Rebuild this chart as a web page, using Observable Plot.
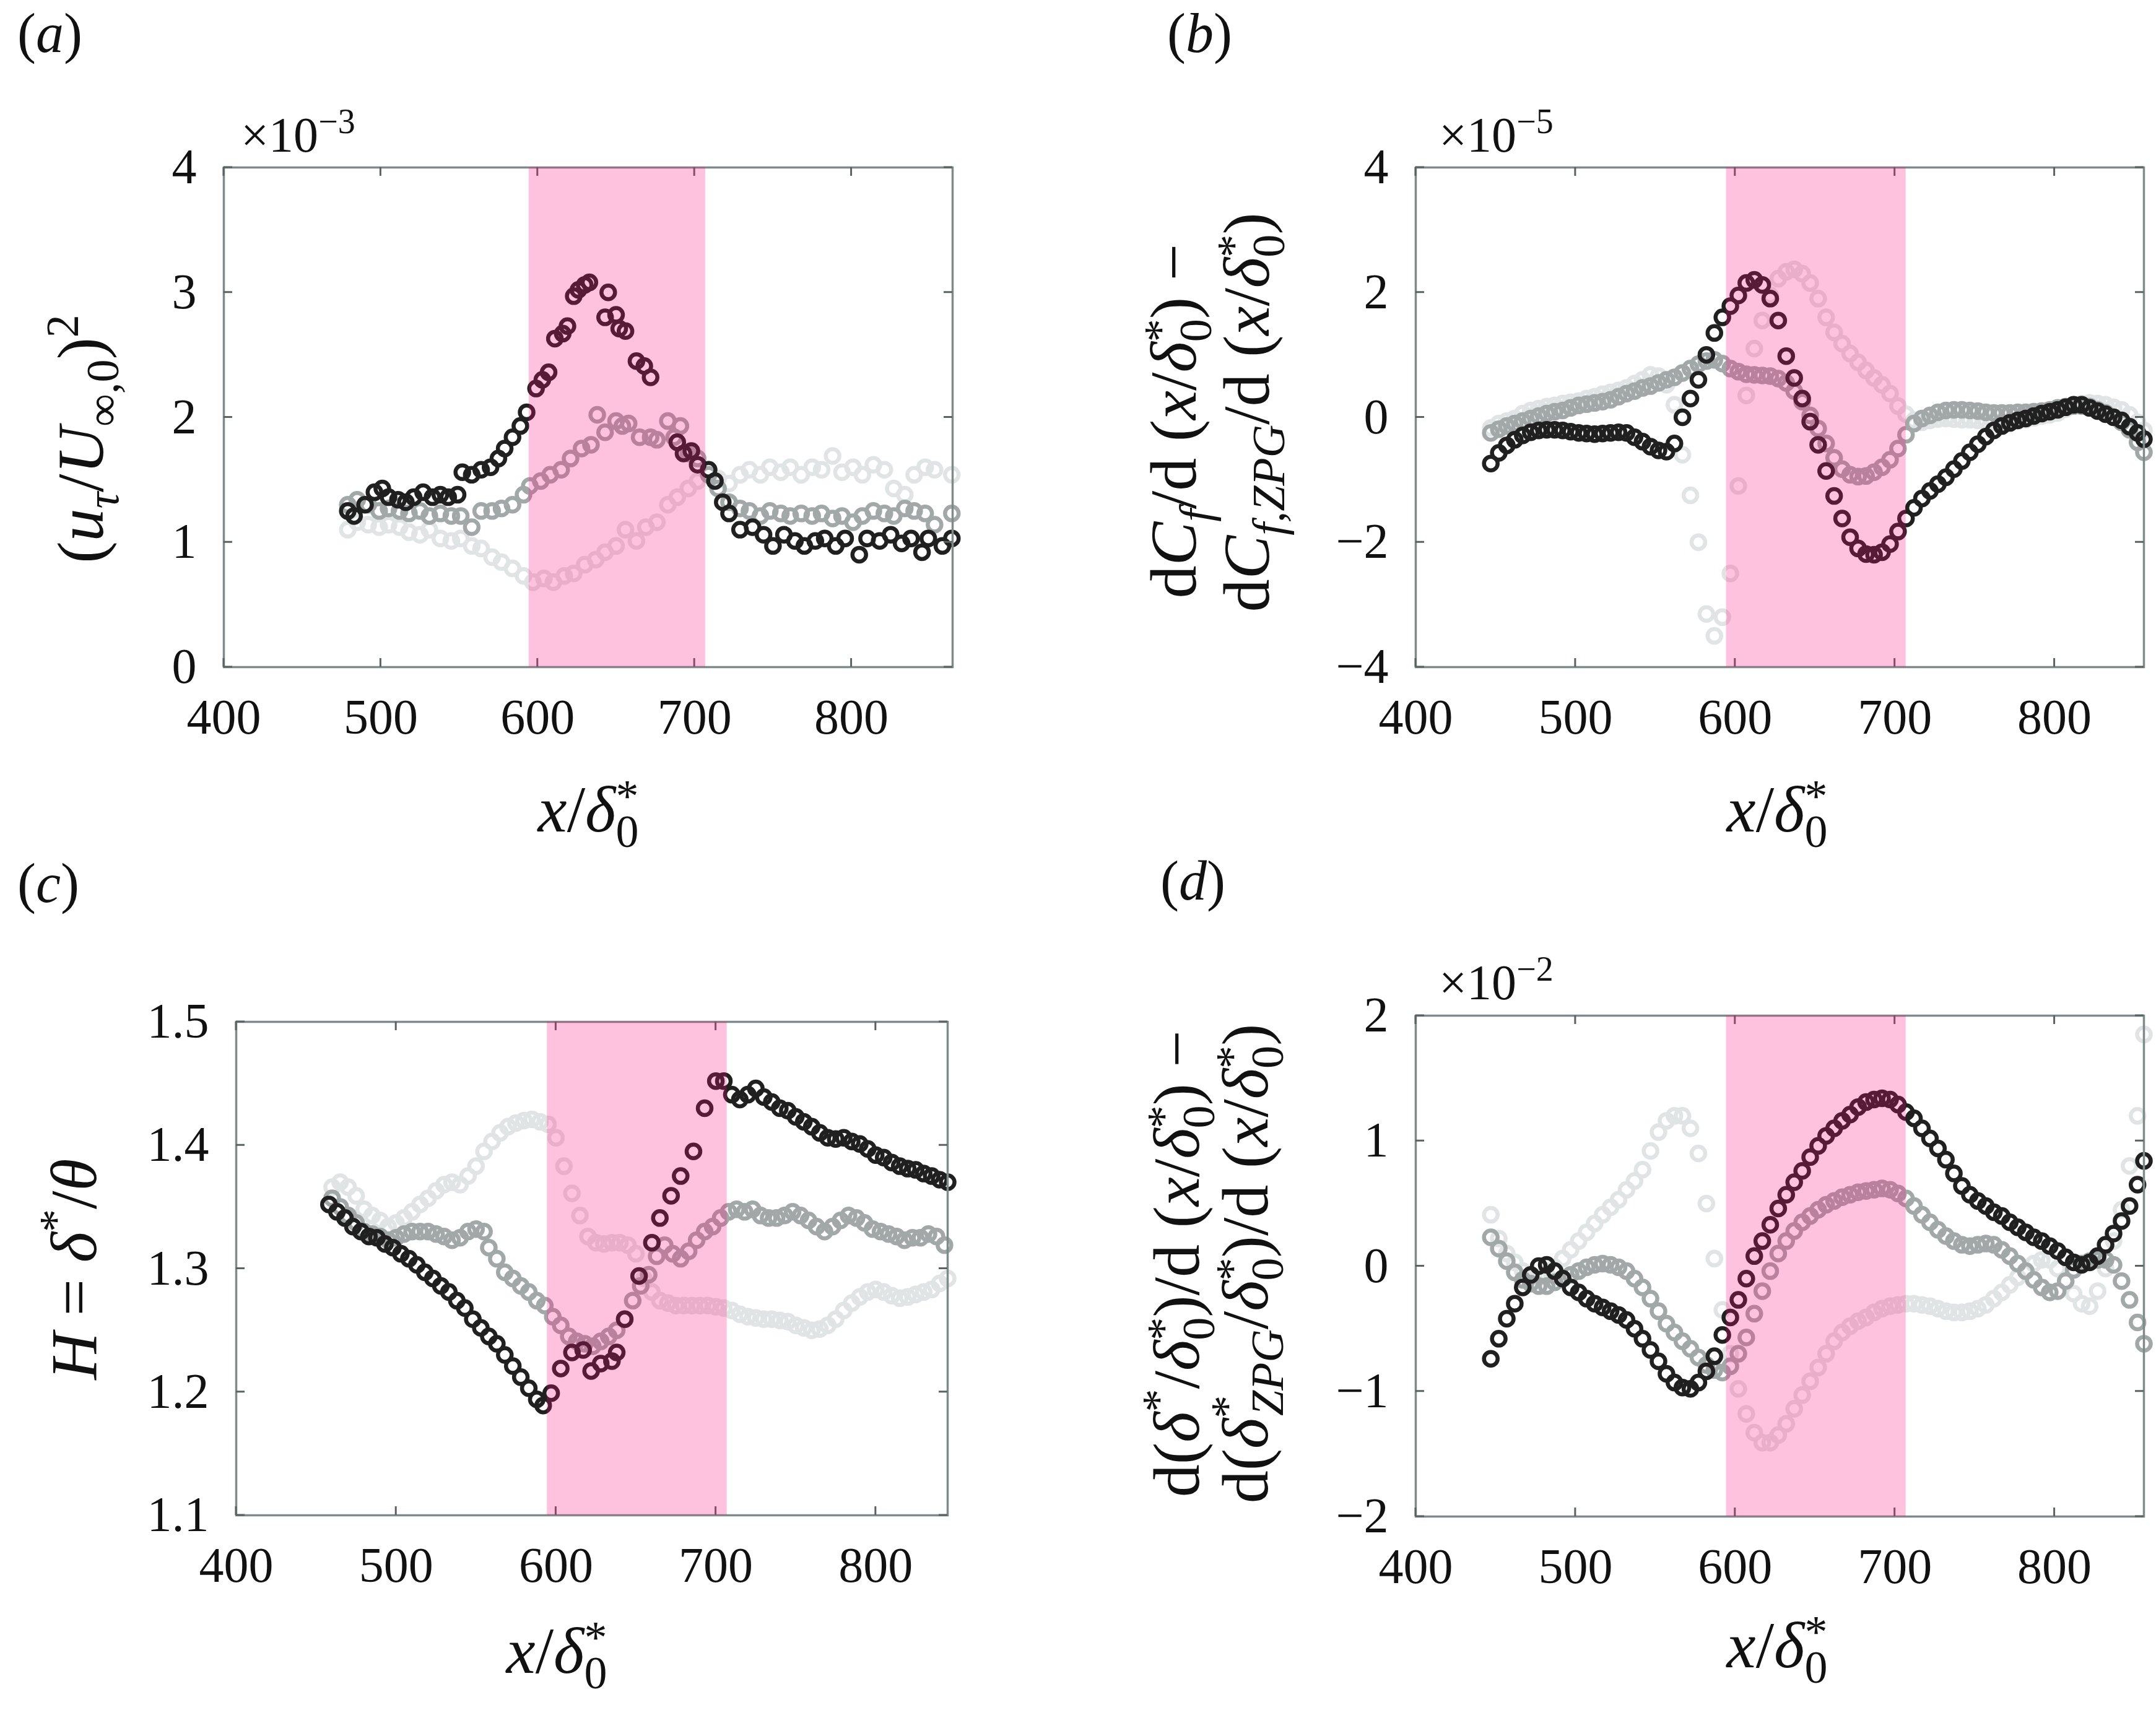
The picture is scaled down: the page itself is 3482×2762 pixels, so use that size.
<!DOCTYPE html>
<html>
<head>
<meta charset="utf-8">
<script src="https://cdn.jsdelivr.net/npm/d3@7"></script>
<script src="https://cdn.jsdelivr.net/npm/@observablehq/plot@0.6"></script>
<style>
html,body{margin:0;padding:0;background:#fff;}
#root{position:relative;width:3482px;height:2762px;background:#fff;overflow:hidden;}
.cell{position:absolute;width:1741px;height:1381px;}
.cell svg{overflow:visible;}
</style>
</head>
<body>
<div id="root"></div>
<script>
// ---------------- DATA ----------------
const xTicks = [400, 500, 600, 700, 800];
const bandLimits = [594.5, 707];

// (a) (u_tau/U_inf,0)^2  x 1e-3
const aYTicks = [0, 1, 2, 3, 4];
const aBlack = [[479,1.25],[483,1.21],[490,1.30],[496,1.40],[501,1.43],[505,1.36],[511,1.34],[516,1.32],[521,1.36],[527,1.40],[533,1.36],[538,1.38],[543,1.36],[549,1.38],[552,1.56],[558,1.54],[564,1.58],[570,1.60],[575,1.67],[579,1.75],[584,1.84],[589,1.93],[593,2.04],[599,2.23],[603,2.30],[607,2.36],[611,2.63],[616,2.67],[619,2.73],[623,2.97],[626,3.02],[630,3.06],[633,3.08],[643,2.80],[645,3.00],[650,2.82],[652,2.71],[656,2.69],[663,2.45],[668,2.41],[672,2.32],[689,1.80],[693,1.71],[698,1.73],[702,1.62],[709,1.58],[713,1.49],[718,1.32],[722,1.23],[729,1.10],[737,1.12],[744,1.06],[750,0.97],[757,1.06],[764,1.01],[770,0.97],[777,1.01],[783,1.03],[790,0.97],[796,1.03],[805,0.90],[810,1.03],[818,1.01],[825,1.06],[832,0.99],[838,1.03],[845,0.92],[849,1.03],[858,0.97],[864,1.03]];
const aMid = [[479,1.30],[485,1.34],[492,1.30],[499,1.25],[505,1.27],[512,1.25],[518,1.23],[525,1.25],[531,1.21],[538,1.23],[545,1.21],[551,1.21],[558,1.12],[564,1.25],[571,1.25],[577,1.27],[584,1.30],[591,1.38],[595,1.45],[602,1.49],[608,1.54],[615,1.58],[621,1.67],[628,1.75],[634,1.78],[638,2.02],[643,1.88],[650,1.97],[654,1.93],[658,1.95],[665,1.84],[672,1.84],[676,1.82],[683,1.97],[687,1.84],[691,1.93],[696,1.71],[702,1.67],[709,1.54],[715,1.43],[722,1.32],[729,1.27],[735,1.25],[742,1.21],[748,1.25],[755,1.23],[761,1.21],[768,1.23],[775,1.21],[781,1.23],[788,1.19],[794,1.21],[801,1.16],[807,1.21],[814,1.25],[821,1.23],[827,1.21],[834,1.27],[840,1.25],[847,1.23],[853,1.14],[864,1.23]];
const aLight = [[479,1.10],[485,1.16],[492,1.14],[499,1.12],[505,1.14],[512,1.12],[518,1.08],[525,1.06],[531,1.10],[538,1.03],[545,1.01],[551,1.03],[558,0.97],[564,0.95],[571,0.88],[577,0.84],[584,0.79],[591,0.73],[597,0.68],[604,0.71],[610,0.68],[617,0.73],[623,0.75],[630,0.82],[637,0.86],[643,0.92],[650,0.97],[656,1.10],[663,1.01],[669,1.12],[676,1.16],[683,1.30],[689,1.36],[696,1.43],[702,1.49],[709,1.58],[715,1.51],[722,1.47],[729,1.54],[735,1.58],[742,1.54],[748,1.60],[755,1.56],[761,1.60],[768,1.54],[775,1.60],[781,1.58],[788,1.69],[794,1.56],[801,1.60],[807,1.54],[814,1.62],[821,1.58],[827,1.43],[834,1.38],[840,1.54],[847,1.60],[853,1.58],[864,1.54]];

// shared stations for (b) and (d)
const xBD = [447,452,457,462,467,472,477,482,487,492,497,502,507,512,517,522,527,532,537,542,547,552,557,562,567,572,577,582,587,592,597,602,607,612,617,622,627,632,637,642,647,652,657,662,667,672,677,682,687,692,697,702,707,712,717,722,727,732,737,742,747,752,757,762,767,772,777,782,787,792,797,802,807,812,817,822,827,832,837,842,847,852,856];

// (b) dCf/dx - dCf,ZPG/dx  x 1e-5
const bYTicks = [-4, -2, 0, 2, 4];
const bBlack = [-0.74,-0.57,-0.45,-0.36,-0.29,-0.24,-0.21,-0.20,-0.20,-0.21,-0.23,-0.25,-0.26,-0.27,-0.26,-0.25,-0.24,-0.25,-0.32,-0.39,-0.47,-0.53,-0.55,-0.42,0.00,0.30,0.60,1.00,1.35,1.60,1.78,1.95,2.15,2.20,2.12,1.90,1.55,0.98,0.63,0.30,-0.07,-0.44,-0.86,-1.26,-1.62,-1.92,-2.10,-2.19,-2.20,-2.16,-2.03,-1.83,-1.62,-1.45,-1.30,-1.18,-1.07,-0.96,-0.83,-0.70,-0.56,-0.43,-0.31,-0.21,-0.14,-0.09,-0.05,-0.02,0.02,0.06,0.09,0.12,0.16,0.20,0.20,0.15,0.10,0.05,0.00,-0.05,-0.15,-0.25,-0.35];
const bMid = [-0.25,-0.19,-0.14,-0.10,-0.06,-0.02,0.02,0.06,0.09,0.11,0.15,0.19,0.21,0.23,0.25,0.28,0.33,0.38,0.42,0.47,0.50,0.55,0.60,0.64,0.71,0.78,0.85,0.90,0.92,0.86,0.78,0.73,0.69,0.68,0.67,0.66,0.62,0.55,0.42,0.25,0.03,-0.18,-0.42,-0.65,-0.83,-0.92,-0.95,-0.94,-0.88,-0.80,-0.68,-0.50,-0.28,-0.10,-0.02,0.03,0.08,0.11,0.12,0.12,0.11,0.10,0.08,0.07,0.07,0.07,0.08,0.08,0.09,0.10,0.12,0.15,0.17,0.18,0.18,0.17,0.12,0.07,0.00,-0.08,-0.20,-0.40,-0.56];
const bLight = [-0.17,-0.10,-0.06,-0.02,0.06,0.11,0.14,0.17,0.19,0.22,0.24,0.26,0.30,0.33,0.37,0.40,0.43,0.47,0.54,0.60,0.68,0.66,0.52,0.20,-0.60,-1.25,-2.00,-3.15,-3.50,-3.20,-2.50,-1.10,0.35,1.10,1.55,1.95,2.22,2.33,2.37,2.30,2.15,1.90,1.60,1.36,1.18,1.02,0.88,0.75,0.63,0.52,0.38,0.18,0.05,-0.05,-0.08,-0.05,-0.03,-0.02,-0.03,-0.04,-0.04,-0.05,-0.07,-0.08,-0.08,-0.07,-0.06,-0.04,-0.01,0.02,0.04,0.07,0.13,0.19,0.22,0.23,0.22,0.20,0.16,0.12,0.04,-0.08,-0.21];

// (c) H = delta*/theta
const cYTicks = [1.1, 1.2, 1.3, 1.4, 1.5];
const cBlack = [[458,1.352],[463,1.346],[468,1.341],[473,1.334],[478,1.330],[483,1.326],[488,1.325],[493,1.320],[498,1.317],[503,1.312],[508,1.308],[513,1.303],[518,1.297],[523,1.292],[528,1.286],[533,1.281],[538,1.274],[543,1.268],[548,1.259],[553,1.252],[558,1.245],[563,1.239],[568,1.230],[573,1.221],[578,1.212],[583,1.203],[588,1.194],[592,1.189],[597,1.199],[603,1.219],[610,1.232],[617,1.234],[622,1.217],[628,1.223],[635,1.225],[638,1.232],[643,1.259],[652,1.294],[660,1.321],[665,1.341],[672,1.359],[678,1.375],[686,1.395],[693,1.430],[700,1.452],[705,1.452],[710,1.441],[715,1.437],[720,1.441],[725,1.446],[730,1.439],[735,1.435],[740,1.430],[745,1.428],[750,1.423],[755,1.419],[760,1.415],[765,1.410],[770,1.406],[775,1.405],[780,1.406],[785,1.403],[790,1.401],[795,1.397],[800,1.392],[805,1.390],[810,1.386],[815,1.383],[820,1.381],[825,1.380],[830,1.377],[835,1.375],[840,1.372],[845,1.370]];
const cMid = [[460,1.357],[465,1.350],[470,1.343],[475,1.337],[480,1.330],[485,1.328],[490,1.326],[495,1.323],[500,1.325],[505,1.328],[510,1.330],[515,1.330],[520,1.330],[525,1.328],[530,1.326],[535,1.323],[540,1.325],[545,1.330],[550,1.332],[555,1.330],[558,1.317],[563,1.308],[568,1.297],[573,1.292],[578,1.286],[583,1.281],[588,1.274],[593,1.270],[598,1.261],[603,1.254],[608,1.245],[613,1.241],[618,1.239],[623,1.237],[628,1.241],[633,1.245],[638,1.250],[643,1.259],[648,1.274],[653,1.286],[658,1.295],[663,1.310],[668,1.319],[673,1.312],[678,1.308],[683,1.314],[688,1.323],[693,1.330],[698,1.334],[703,1.341],[708,1.346],[713,1.348],[718,1.346],[723,1.348],[728,1.343],[733,1.341],[738,1.341],[743,1.343],[748,1.346],[753,1.343],[758,1.339],[763,1.334],[768,1.330],[773,1.334],[778,1.339],[783,1.343],[788,1.341],[793,1.337],[798,1.332],[803,1.330],[808,1.328],[813,1.326],[818,1.323],[823,1.325],[828,1.325],[833,1.328],[838,1.326],[843,1.319]];
const cLight = [[460,1.366],[465,1.370],[470,1.366],[475,1.359],[480,1.348],[485,1.343],[490,1.339],[495,1.334],[500,1.337],[505,1.341],[510,1.346],[515,1.352],[520,1.357],[525,1.363],[530,1.368],[535,1.370],[540,1.368],[545,1.375],[550,1.383],[555,1.395],[560,1.403],[565,1.410],[570,1.415],[575,1.418],[580,1.420],[585,1.421],[590,1.419],[595,1.417],[600,1.406],[605,1.383],[610,1.361],[615,1.343],[620,1.326],[625,1.321],[630,1.320],[635,1.321],[640,1.321],[645,1.319],[650,1.312],[655,1.292],[660,1.281],[665,1.274],[670,1.272],[675,1.270],[680,1.270],[685,1.270],[690,1.270],[695,1.270],[700,1.269],[705,1.268],[710,1.266],[715,1.263],[720,1.261],[725,1.260],[730,1.259],[735,1.259],[740,1.258],[745,1.257],[750,1.254],[755,1.252],[760,1.250],[765,1.251],[770,1.254],[775,1.259],[780,1.266],[785,1.272],[790,1.277],[795,1.281],[800,1.283],[805,1.281],[810,1.278],[815,1.276],[820,1.277],[825,1.279],[830,1.281],[835,1.283],[840,1.288],[845,1.292]];

// (d) d(delta*/delta0*)/dx - ZPG  x 1e-2
const dYTicks = [-2, -1, 0, 1, 2];
const dBlack = [-0.74,-0.58,-0.42,-0.30,-0.17,-0.07,0.00,0.01,-0.04,-0.10,-0.17,-0.21,-0.26,-0.30,-0.33,-0.36,-0.39,-0.43,-0.50,-0.58,-0.67,-0.76,-0.86,-0.93,-0.97,-0.98,-0.93,-0.84,-0.72,-0.55,-0.41,-0.27,-0.10,0.08,0.20,0.33,0.46,0.57,0.67,0.76,0.87,0.96,1.04,1.10,1.16,1.21,1.27,1.31,1.33,1.34,1.33,1.29,1.23,1.18,1.10,1.02,0.94,0.85,0.74,0.64,0.57,0.52,0.48,0.43,0.40,0.35,0.31,0.27,0.23,0.20,0.16,0.12,0.07,0.03,0.01,0.03,0.08,0.17,0.26,0.36,0.48,0.65,0.84];
const dMid = [0.23,0.14,0.04,-0.05,-0.11,-0.14,-0.16,-0.16,-0.13,-0.10,-0.07,-0.04,-0.01,0.01,0.02,0.01,-0.01,-0.04,-0.10,-0.17,-0.26,-0.36,-0.46,-0.53,-0.60,-0.66,-0.73,-0.79,-0.83,-0.85,-0.80,-0.70,-0.57,-0.38,-0.20,-0.04,0.10,0.20,0.28,0.35,0.40,0.45,0.49,0.52,0.55,0.57,0.59,0.60,0.61,0.62,0.61,0.58,0.54,0.48,0.41,0.35,0.29,0.24,0.20,0.17,0.16,0.17,0.18,0.17,0.13,0.08,0.02,-0.04,-0.11,-0.17,-0.21,-0.20,-0.12,-0.03,0.02,0.04,0.05,0.05,0.01,-0.12,-0.27,-0.45,-0.62];
const dLight = [0.41,0.22,0.10,0.03,-0.04,-0.08,-0.09,-0.07,-0.01,0.06,0.13,0.20,0.27,0.34,0.41,0.47,0.53,0.61,0.68,0.77,0.92,1.07,1.16,1.20,1.20,1.10,0.90,0.50,0.06,-0.35,-0.70,-0.98,-1.18,-1.33,-1.41,-1.41,-1.35,-1.26,-1.14,-1.03,-0.92,-0.81,-0.70,-0.60,-0.53,-0.48,-0.44,-0.41,-0.37,-0.34,-0.32,-0.31,-0.30,-0.30,-0.31,-0.32,-0.34,-0.36,-0.37,-0.37,-0.36,-0.34,-0.31,-0.26,-0.21,-0.15,-0.09,-0.04,0.02,0.05,0.05,-0.02,-0.12,-0.22,-0.30,-0.32,-0.20,-0.02,0.20,0.45,0.80,1.20,1.85];

// ---------------- STYLE ----------------
const SERIF = "'Liberation Serif','Times New Roman',Times,serif";
const C_BLACK = "#202020", C_MID = "#a2a8a8", C_LIGHT = "#e0e4e4";
const FRAME = "#7f8a8a", TICK = "#5a6262", PINK = "#ff0a7c";
const LF = 106; // axis-label font size

const fmtInt = d => d < 0 ? "\u2212" + (-d) : String(d);
const fmtDec = d => d.toFixed(1);

function pairs(xs, ys) { return xs.map((x, i) => [x, ys[i]]); }

// rich text: tokens -> tspans with sub/sup
function rich(textSel, tokens, F) {
  let off = 0;
  const s = Math.round(F * 0.7);
  for (const tk of tokens) {
    const tok = typeof tk === "string" ? {t: tk} : tk;
    let txt, target = 0, size = F, dx = 0;
    if (tok.sub != null) { txt = tok.sub; target = F * 0.24; size = s; }
    else if (tok.sup != null) { txt = tok.sup; target = -F * 0.38; size = s; }
    else if (tok.over != null) { txt = tok.over; target = -F * 0.30; size = s; dx = -s * 0.5; }
    else { txt = tok.t; }
    if (tok.dx) dx = tok.dx * s;
    const ts = textSel.append("tspan")
      .attr("font-size", size)
      .attr("font-style", tok.it ? "italic" : "normal")
      .attr("dy", (target - off).toFixed(1))
      .text(txt);
    if (dx) ts.attr("dx", dx.toFixed(1));
    off = target;
  }
  if (off !== 0) textSel.append("tspan").attr("dy", (-off).toFixed(1)).text("");
}

const dl0 = [{t: "δ", it: 1}, {sub: "0"}, {over: "*"}];        // δ0*
const xLabelTokens = [{t: "x", it: 1}, "/", ...dl0];

function addText(svg, x, y, tokens, F, opts = {}) {
  const t = d3.select(svg).append("text")
    .attr("font-family", SERIF).attr("font-size", F).attr("fill", "#111")
    .attr("text-anchor", opts.anchor || "start");
  if (opts.rotate) t.attr("transform", `translate(${x},${y}) rotate(-90)`);
  else t.attr("x", x).attr("y", y);
  rich(t, tokens, F);
  return t;
}

function panel(cfg) {
  const dotOpts = (stroke) => ({x: d => d[0], y: d => d[1], r: 11, stroke, strokeWidth: 6.5, fill: "none"});
  const svg = Plot.plot({
    width: 1741, height: 1381,
    marginLeft: cfg.m[0], marginRight: cfg.m[1], marginTop: cfg.m[2], marginBottom: cfg.m[3],
    style: {fontFamily: SERIF, fontSize: "80px", color: "#111", background: "transparent", overflow: "visible"},
    x: {domain: cfg.xDomain, label: null},
    y: {domain: [cfg.yTicks[0], cfg.yTicks[cfg.yTicks.length - 1]], label: null},
    marks: [
      Plot.dot(cfg.light, dotOpts(C_LIGHT)),
      Plot.dot(cfg.mid, dotOpts(C_MID)),
      Plot.dot(cfg.black, dotOpts(C_BLACK)),
      Plot.frame({stroke: FRAME, strokeWidth: 3.5}),
      Plot.rect([bandLimits], {x1: d => d[0], x2: d => d[1], fill: PINK, fillOpacity: 0.25}),
      Plot.axisX({ticks: xTicks, tickSize: 0, tickPadding: 51, fontSize: 80, label: null, tickFormat: fmtInt}),
      Plot.axisY({ticks: cfg.yTicks, tickSize: 0, tickPadding: 44, fontSize: 80, label: null, tickFormat: cfg.fmt})
    ]
  });
  // inward ticks on all four sides (through the plot's own scales)
  const sx = svg.scale("x"), sy = svg.scale("y");
  const x0 = sx.apply(cfg.xDomain[0]), x1 = sx.apply(cfg.xDomain[1]);
  const yb = sy.apply(cfg.yTicks[0]), yt = sy.apply(cfg.yTicks[cfg.yTicks.length - 1]);
  const bandG = svg.querySelector('g[aria-label="rect"]');
  const g = d3.select(svg).insert("g", () => bandG).attr("stroke", TICK).attr("stroke-width", 3);
  const L = 14;
  for (const t of xTicks) {
    const X = sx.apply(t);
    g.append("line").attr("x1", X).attr("x2", X).attr("y1", yb).attr("y2", yb - L);
    g.append("line").attr("x1", X).attr("x2", X).attr("y1", yt).attr("y2", yt + L);
  }
  for (const t of cfg.yTicks) {
    const Y = sy.apply(t);
    g.append("line").attr("x1", x0).attr("x2", x0 + L).attr("y1", Y).attr("y2", Y);
    g.append("line").attr("x1", x1).attr("x2", x1 - L).attr("y1", Y).attr("y2", Y);
  }
  // panel tag
  addText(svg, cfg.tag[0], cfg.tag[1], ["(", {t: cfg.tag[2], it: 1}, ")"], 90);
  // exponent
  if (cfg.exp) addText(svg, cfg.exp[0], cfg.exp[1], ["×10", {sup: cfg.exp[2]}], 80);
  // x label
  addText(svg, cfg.xl[0], cfg.xl[1], xLabelTokens, LF, {anchor: "middle"});
  // y label lines
  for (const yl of cfg.yl) addText(svg, yl.x, yl.y, yl.tokens, LF, {anchor: "middle", rotate: true});
  const div = document.createElement("div");
  div.className = "cell";
  div.style.left = cfg.pos[0] + "px";
  div.style.top = cfg.pos[1] + "px";
  div.appendChild(svg);
  document.getElementById("root").appendChild(div);
}

// (a)
panel({
  pos: [0, 0], m: [361, 203, 270, 304], xDomain: [400, 864.5], yTicks: aYTicks, fmt: fmtInt,
  black: aBlack, mid: aMid, light: aLight,
  tag: [28, 84, "a"], exp: [389, 245, "\u22123"], xl: [950, 1343],
  yl: [{x: 166, y: 709, tokens: ["(", {t: "u", it: 1}, {sub: "τ", it: 1}, "/", {t: "U", it: 1}, {sub: "∞,0"}, ")", {sup: "2"}]}]
});
// (b)
panel({
  pos: [1741, 0], m: [545, 20, 270, 304], xDomain: [400, 856], yTicks: bYTicks, fmt: fmtInt,
  black: pairs(xBD, bBlack), mid: pairs(xBD, bMid), light: pairs(xBD, bLight),
  tag: [144, 84, "b"], exp: [583, 245, "\u22125"], xl: [1129, 1343],
  yl: [
    {x: 190, y: 680, tokens: ["d", {t: "C", it: 1}, {sub: "f", it: 1}, "/d (", {t: "x", it: 1}, "/", ...dl0, ") \u2212"]},
    {x: 308, y: 666, tokens: ["d", {t: "C", it: 1}, {sub: "f,ZPG", it: 1}, "/d (", {t: "x", it: 1}, "/", ...dl0, ")"]}
  ]
});
// (c)
panel({
  pos: [0, 1381], m: [381, 211, 269, 315], xDomain: [400, 845], yTicks: cYTicks, fmt: fmtDec,
  black: cBlack, mid: cMid, light: cLight,
  tag: [28, 76, "c"], exp: null, xl: [899, 1321],
  yl: [{x: 155, y: 669, tokens: [{t: "H", it: 1}, " = ", {t: "δ", it: 1}, {sup: "*"}, "/", {t: "θ", it: 1}]}]
});
// (d)
panel({
  pos: [1741, 1381], m: [545, 20, 259, 313], xDomain: [400, 856], yTicks: dYTicks, fmt: fmtInt,
  black: pairs(xBD, dBlack), mid: pairs(xBD, dMid), light: pairs(xBD, dLight),
  tag: [133, 72, "d"], exp: [583, 233, "\u22122"], xl: [1129, 1312],
  yl: [
    {x: 195, y: 660, tokens: ["d(", {t: "δ", it: 1}, {sup: "*"}, "/", ...dl0, ")/d (", {t: "x", it: 1}, "/", ...dl0, ") \u2212"]},
    {x: 306, y: 660, tokens: ["d(", {t: "δ", it: 1}, {sup: "*"}, {sub: "ZPG", it: 1, dx: -0.45}, "/", ...dl0, ")/d (", {t: "x", it: 1}, "/", ...dl0, ")"]}
  ]
});
</script>
</body>
</html>
